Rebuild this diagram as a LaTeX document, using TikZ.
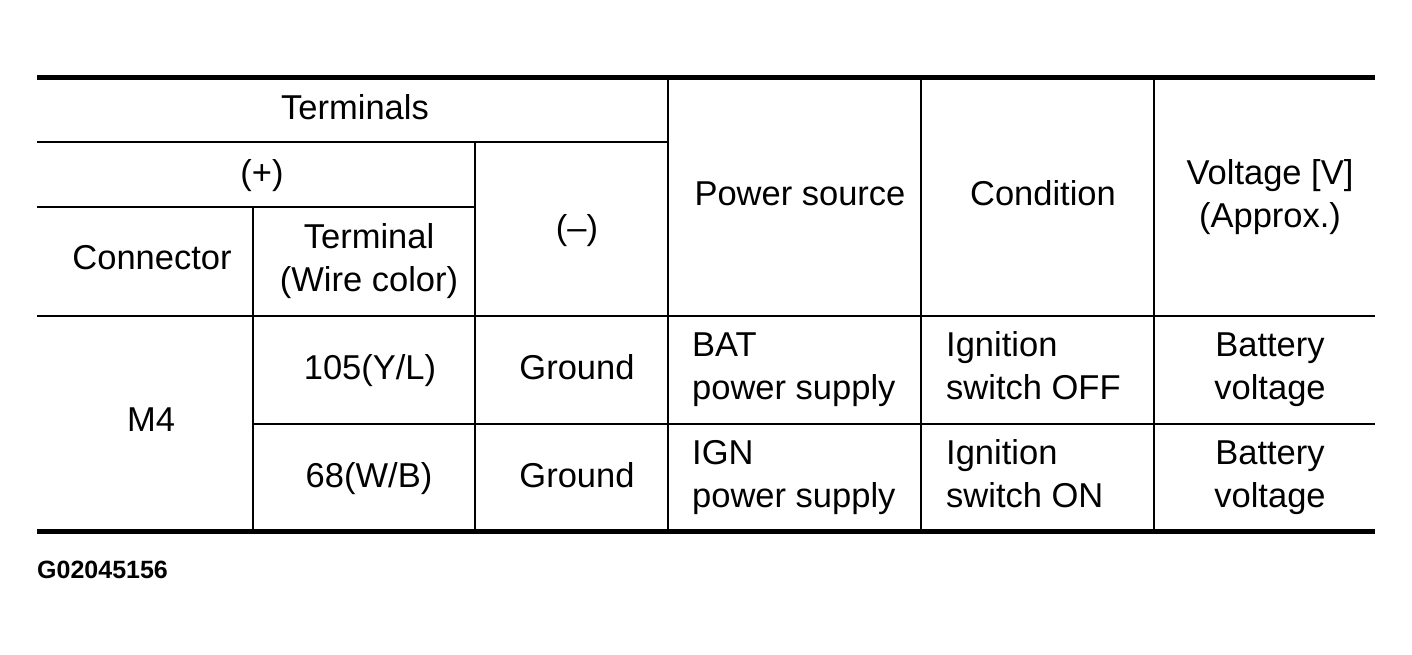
\documentclass[tikz,border=0pt]{standalone}
\usepackage{fontspec}
\setmainfont{Liberation Sans}
\usepackage{tikz}
\tikzset{
  rule/.style={line width=5.5pt},
  grid/.style={line width=2pt},
  cell/.style={inner sep=0pt, align=center, font=\fontsize{34.5}{43}\selectfont},
  lcell/.style={cell, align=left, anchor=west}
}

\begin{document}
\begin{tikzpicture}[x=1pt, y=-1pt]
  \useasboundingbox (0, 0) rectangle (1412, 654);
  \draw[rule] (37, 77.5) -- (1375, 77.5);
  \draw[rule] (37, 531.5) -- (1375, 531.5);
  \draw[grid] (37, 142) -- (668, 142);
  \draw[grid] (37, 207) -- (475, 207);
  \draw[grid] (37, 316) -- (1375, 316);
  \draw[grid] (253, 424) -- (1375, 424);
  \draw[grid] (253, 207) -- (253, 531.5);
  \draw[grid] (475, 142) -- (475, 531.5);
  \foreach \x in {668, 921, 1154}
    \draw[grid] (\x, 77.5) -- (\x, 531.5);

  \node[cell] (terminals) at (355, 107) {Terminals};
  \node[cell] (plus) at (262, 176) {(+)};
  \node[cell] (connector) at (152, 258) {Connector};
  \node[cell] (terminal) at (369, 261) {Terminal\\(Wire color)};
  \node[cell] (minus) at (577, 231) {(–)};
  \node[cell] (source) at (800, 194) {Power source};
  \node[cell] (condition) at (1043, 193) {Condition};
  \node[cell] (voltage) at (1270, 197) {Voltage [V]\\(Approx.)};

  \node[cell] (m4) at (151, 420) {M4};
  \node[cell] (t105) at (370, 371) {105(Y/L)};
  \node[cell] (t68) at (369, 479) {68(W/B)};
  \node[cell] (gnda) at (577, 367) {Ground};
  \node[cell] (gndb) at (577, 475) {Ground};
  \node[lcell] (bat) at (692, 369.5) {BAT\\power supply};
  \node[lcell] (ign) at (692, 477.5) {IGN\\power supply};
  \node[lcell] (off) at (946, 366) {Ignition\\switch OFF};
  \node[lcell] (on) at (946, 474) {Ignition\\switch ON};
  \node[cell] (vbat) at (1270, 369.5) {Battery\\voltage};
  \node[cell] (vign) at (1270, 477.5) {Battery\\voltage};

  \node[inner sep=0pt, anchor=west, font=\fontsize{25}{29}\selectfont\bfseries] (code) at (37, 569.5) {G02045156};
\end{tikzpicture}
\end{document}
